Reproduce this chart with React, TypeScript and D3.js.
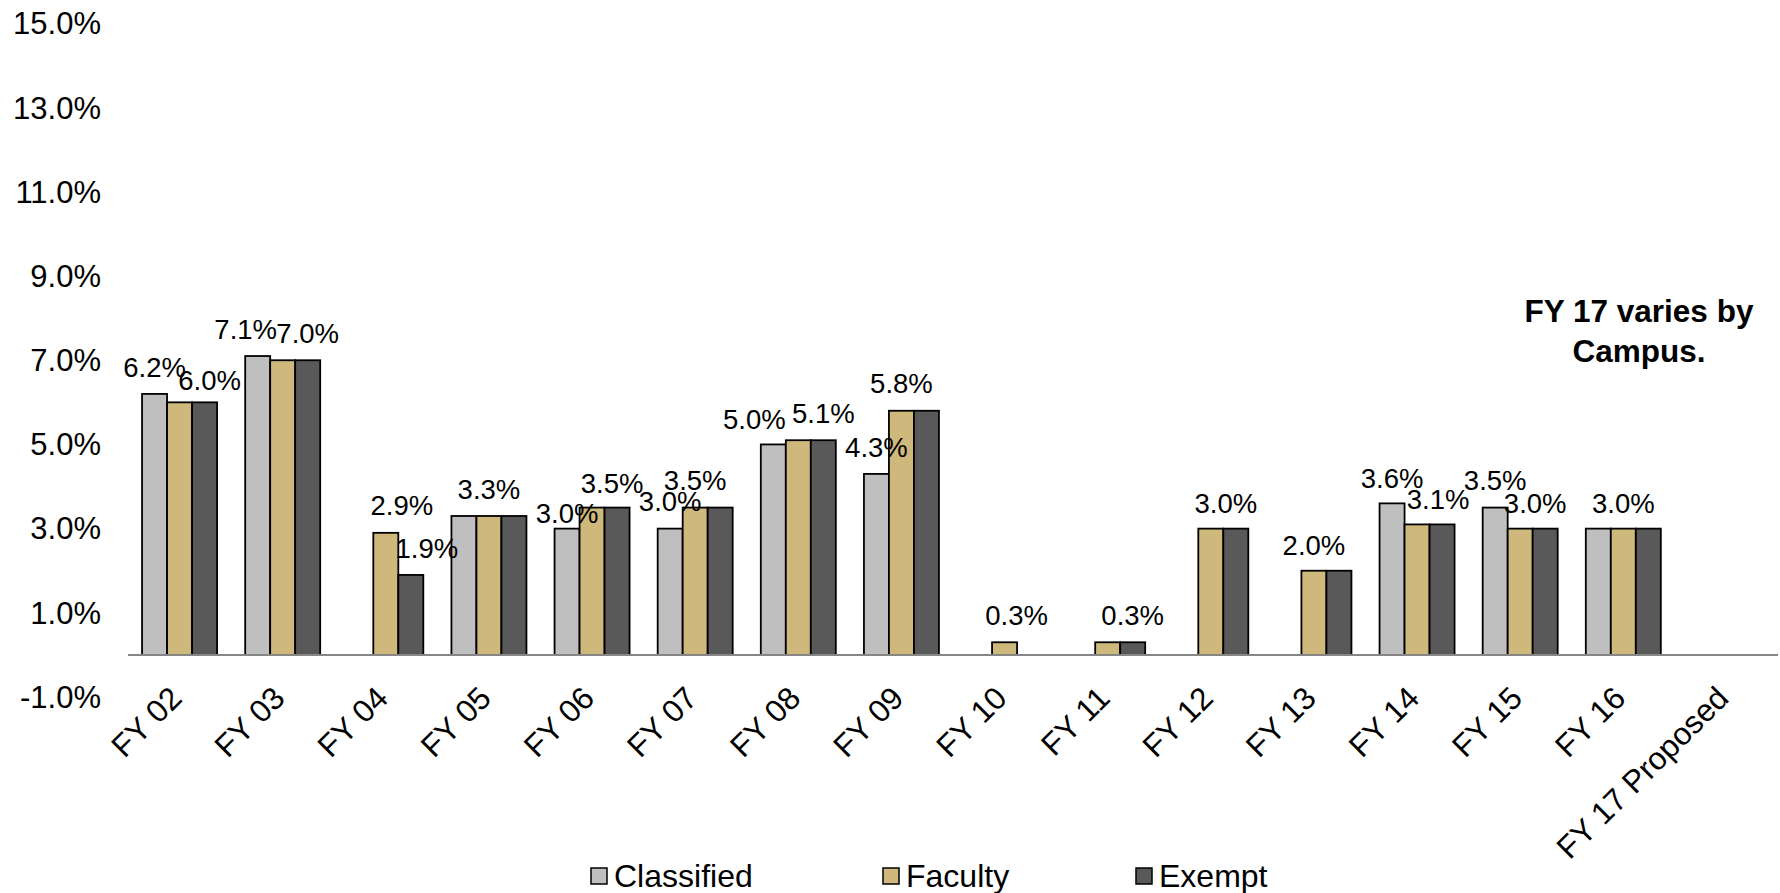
import React from 'react';
import * as d3 from 'd3';

// categories and series
const categories = [
  'FY 02', 'FY 03', 'FY 04', 'FY 05', 'FY 06', 'FY 07', 'FY 08', 'FY 09',
  'FY 10', 'FY 11', 'FY 12', 'FY 13', 'FY 14', 'FY 15', 'FY 16', 'FY 17 Proposed'
];
const seriesNames = ['Classified', 'Faculty', 'Exempt'];

const classified = [6.2, 7.1, null, 3.3, 3.0, 3.0, 5.0, 4.3, null, null, null, null, 3.6, 3.5, 3.0, null];
const faculty = [6.0, 7.0, 2.9, 3.3, 3.5, 3.5, 5.1, 5.8, 0.3, 0.3, 3.0, 2.0, 3.1, 3.0, 3.0, null];
const exempt = [6.0, 7.0, 1.9, 3.3, 3.5, 3.5, 5.1, 5.8, null, 0.3, 3.0, 2.0, 3.1, 3.0, 3.0, null];

const yTicks = [-1, 1, 3, 5, 7, 9, 11, 13, 15];

// which bars carry a value label (the chart only shows some of them)
const labelled: [string, string][] = [
  ['FY 02', 'Classified'], ['FY 02', 'Exempt'],
  ['FY 03', 'Classified'], ['FY 03', 'Exempt'],
  ['FY 04', 'Faculty'], ['FY 04', 'Exempt'],
  ['FY 05', 'Faculty'],
  ['FY 06', 'Classified'], ['FY 06', 'Exempt'],
  ['FY 07', 'Classified'], ['FY 07', 'Faculty'],
  ['FY 08', 'Classified'], ['FY 08', 'Exempt'],
  ['FY 09', 'Classified'], ['FY 09', 'Faculty'],
  ['FY 10', 'Faculty'],
  ['FY 11', 'Exempt'],
  ['FY 12', 'Exempt'],
  ['FY 13', 'Faculty'],
  ['FY 14', 'Classified'], ['FY 14', 'Exempt'],
  ['FY 15', 'Classified'], ['FY 15', 'Exempt'],
  ['FY 16', 'Faculty']
];

// small hand nudges so labels sit where they were dragged in the original
const labelNudge: Record<string, [number, number]> = {
  'FY 02|Exempt': [5, 5],
  'FY 03|Classified': [-12, 0],
  'FY 04|Faculty': [16, 0],
  'FY 04|Exempt': [16, 0],
  'FY 06|Classified': [0, 12],
  'FY 06|Exempt': [-5, 3],
  'FY 08|Classified': [-19, 2],
  'FY 10|Faculty': [12, 0],
  'FY 12|Exempt': [-10, 2],
  'FY 13|Faculty': [0, 2],
  'FY 14|Classified': [0, 2],
  'FY 14|Exempt': [-4, 2],
  'FY 15|Exempt': [-10, 2],
  'FY 16|Faculty': [0, 2]
};

const legendX = [591, 883, 1136];

const colors: Record<string, string> = {
  Classified: '#BFBFBF',
  Faculty: '#CFB87C',
  Exempt: '#595959'
};

const W = 1780;
const H = 893;
const FONT = '"Liberation Sans", Arial, sans-serif';

export default function App() {
  const values: Record<string, (number | null)[]> = {
    Classified: classified,
    Faculty: faculty,
    Exempt: exempt
  };

  const x0 = d3.scaleBand<string>().domain(categories).range([128, 1778]);
  const x1 = d3
    .scaleBand<string>()
    .domain(seriesNames)
    .range([0, x0.bandwidth()])
    .paddingOuter(0.5625);
  const y = d3.scaleLinear().domain([-1, 15]).range([697, 23.5]);
  const fmt = (v: number) => (v < 0 ? '-' : '') + d3.format('.1f')(Math.abs(v)) + '%';

  return (
    <div style={{ position: 'absolute', left: 0, top: 0 }}>
      <svg width={W} height={H} style={{ display: 'block', background: '#fff' }} fontFamily={FONT}>
        {/* y tick labels, no axis line */}
        {yTicks.map(t => (
          <text key={t} x={101} y={y(t)} dy="0.35em" textAnchor="end" fontSize={31} fill="#000">
            {fmt(t)}
          </text>
        ))}

        {/* bars */}
        {categories.map((c, i) => (
          <g key={c} transform={`translate(${x0(c)},0)`}>
            {seriesNames.map(s => {
              const v = values[s][i];
              if (v == null) return null;
              return (
                <rect
                  key={s}
                  x={x1(s)}
                  y={y(v)}
                  width={x1.bandwidth()}
                  height={y(0) - y(v)}
                  fill={colors[s]}
                  stroke="#000"
                  strokeWidth={1.8}
                />
              );
            })}
          </g>
        ))}

        {/* zero line */}
        <line x1={128} x2={1778} y1={y(0)} y2={y(0)} stroke="#868686" strokeWidth={2} />

        {/* value labels */}
        {labelled.map(([c, s]) => {
          const i = categories.indexOf(c);
          const v = values[s][i] as number;
          const [dx, dy] = labelNudge[`${c}|${s}`] || [0, 0];
          const cx = (x0(c) as number) + (x1(s) as number) + x1.bandwidth() / 2;
          return (
            <text
              key={`${c}-${s}`}
              x={cx + dx}
              y={y(v) - 27 + dy}
              dy="0.35em"
              textAnchor="middle"
              fontSize={27.5}
              fill="#000"
            >
              {fmt(v)}
            </text>
          );
        })}

        {/* category labels, rotated */}
        {categories.map(c => {
          const cx = (x0(c) as number) + x0.bandwidth() / 2;
          return (
            <text
              key={c}
              transform={`translate(${cx + 4},700) rotate(-45)`}
              textAnchor="end"
              fontSize={31.5}
              fill="#000"
            >
              {c}
            </text>
          );
        })}

        {/* note */}
        <text x={1639} y={322} textAnchor="middle" fontSize={31.5} fontWeight="bold" fill="#000">
          <tspan x={1639}>FY 17 varies by</tspan>
          <tspan x={1639} dy={40}>Campus.</tspan>
        </text>

        {/* legend */}
        {seriesNames.map((s, k) => (
          <g key={s} transform={`translate(${legendX[k]},876)`}>
            <rect x={0} y={-8} width={16} height={16} fill={colors[s]} stroke="#000" strokeWidth={1.5} />
            <text x={23} y={0} dy="0.35em" fontSize={32} fill="#000">
              {s}
            </text>
          </g>
        ))}
      </svg>
    </div>
  );
}
